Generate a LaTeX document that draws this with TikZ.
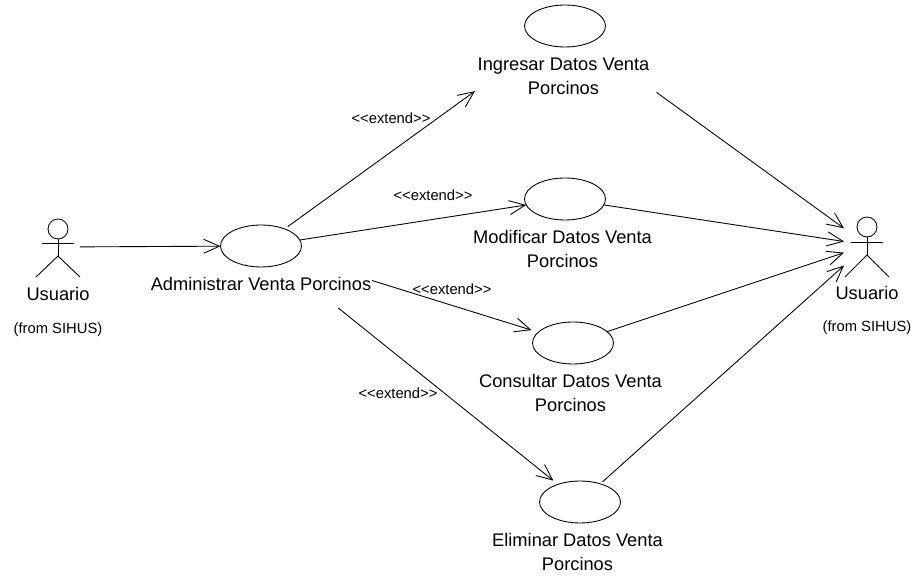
\documentclass[tikz,border=0pt]{standalone}
\usepackage{fontspec}
\setmainfont{Liberation Sans}
\usetikzlibrary{shapes.geometric,arrows.meta}
\tikzstyle{usecase}=[ellipse,draw,minimum width=1.62cm,minimum height=0.84cm,inner sep=0pt,outer sep=0pt]
\tikzstyle{actorbox}=[rectangle,minimum width=0.92cm,minimum height=1.28cm,inner sep=0pt,outer sep=0pt]
\tikzstyle{actorhead}=[circle,draw,minimum size=0.4cm,inner sep=0pt,outer sep=0pt]
\tikzstyle{lbl}=[font=\fontsize{10.4}{13.6}\selectfont,align=center,inner sep=0pt]
\tikzstyle{stereo}=[font=\fontsize{8.4}{10}\selectfont,inner sep=0pt]
\tikzstyle{assoc}=[-{Straight Barb[length=9pt,width=8pt]}]

\begin{document}
\begin{tikzpicture}[x=0.02cm,y=-0.02cm,line width=0.5pt]
\useasboundingbox (0,0) rectangle (917,577);

\node[actorbox] (usuario1) at (57, 247) {};
\node[actorbox] (usuario2) at (867, 245) {};

\node[usecase] (administrar) at (261, 246) {};
\node[usecase] (ingresar) at (565, 26) {};
\node[usecase] (modificar) at (565, 199) {};
\node[usecase] (consultar) at (573, 343) {};
\node[usecase] (eliminar) at (580, 502) {};

\node[lbl] (administrarl) at (261, 284) {Administrar Venta Porcinos};
\node[lbl] (ingresarl) at (563.5, 76) {Ingresar Datos Venta\\Porcinos};
\node[lbl] (modificarl) at (562.5, 249) {Modificar Datos Venta\\Porcinos};
\node[lbl] (consultarl) at (570.5, 393) {Consultar Datos Venta\\Porcinos};
\node[lbl] (eliminarl) at (577.5, 552) {Eliminar Datos Venta\\Porcinos};

\node[lbl] (usuario1l) at (58, 294) {Usuario};
\node[lbl] (usuario2l) at (867, 293) {Usuario};
\node[stereo] (from1) at (58, 330) {(from SIHUS)};
\node[stereo] (from2) at (867, 328) {(from SIHUS)};

\node[stereo] (ext1) at (391, 118) {<{}<extend>{}>};
\node[stereo] (ext2) at (433, 195) {<{}<extend>{}>};
\node[stereo] (ext3) at (452, 289) {<{}<extend>{}>};
\node[stereo] (ext4) at (398, 393) {<{}<extend>{}>};

% left stick figure
\node[actorhead] (head1) at (58, 229) {};
\draw (42, 243) -- (74, 243);
\draw (head1) -- (58, 256);
\draw (36, 277) -- (58, 256) -- (80, 277);

% right stick figure
\node[actorhead] (head2) at (867, 227) {};
\draw (851, 242) -- (883, 242);
\draw (head2) -- (867, 255);
\draw (845, 277) -- (867, 255) -- (889, 277);

\draw[assoc] (usuario1) -- (administrar);

\draw[assoc, shorten <=0.08cm, shorten >=1.64cm] (administrar) -- (ingresar);
\draw[assoc] (administrar) -- (modificar);
\draw[assoc, shorten <=1.6cm, shorten >=0.14cm] (administrar) -- (consultar);
\draw[assoc, shorten <=1.42cm, shorten >=0.12cm] (administrar) -- (eliminar);

\draw[assoc, shorten <=1.68cm] (ingresar) -- (usuario2);
\draw[assoc] (modificar) -- (usuario2);
\draw[assoc] (consultar) -- (usuario2);
\draw[assoc, shorten <=0.06cm] (eliminar) -- (usuario2);

\end{tikzpicture}
\end{document}
